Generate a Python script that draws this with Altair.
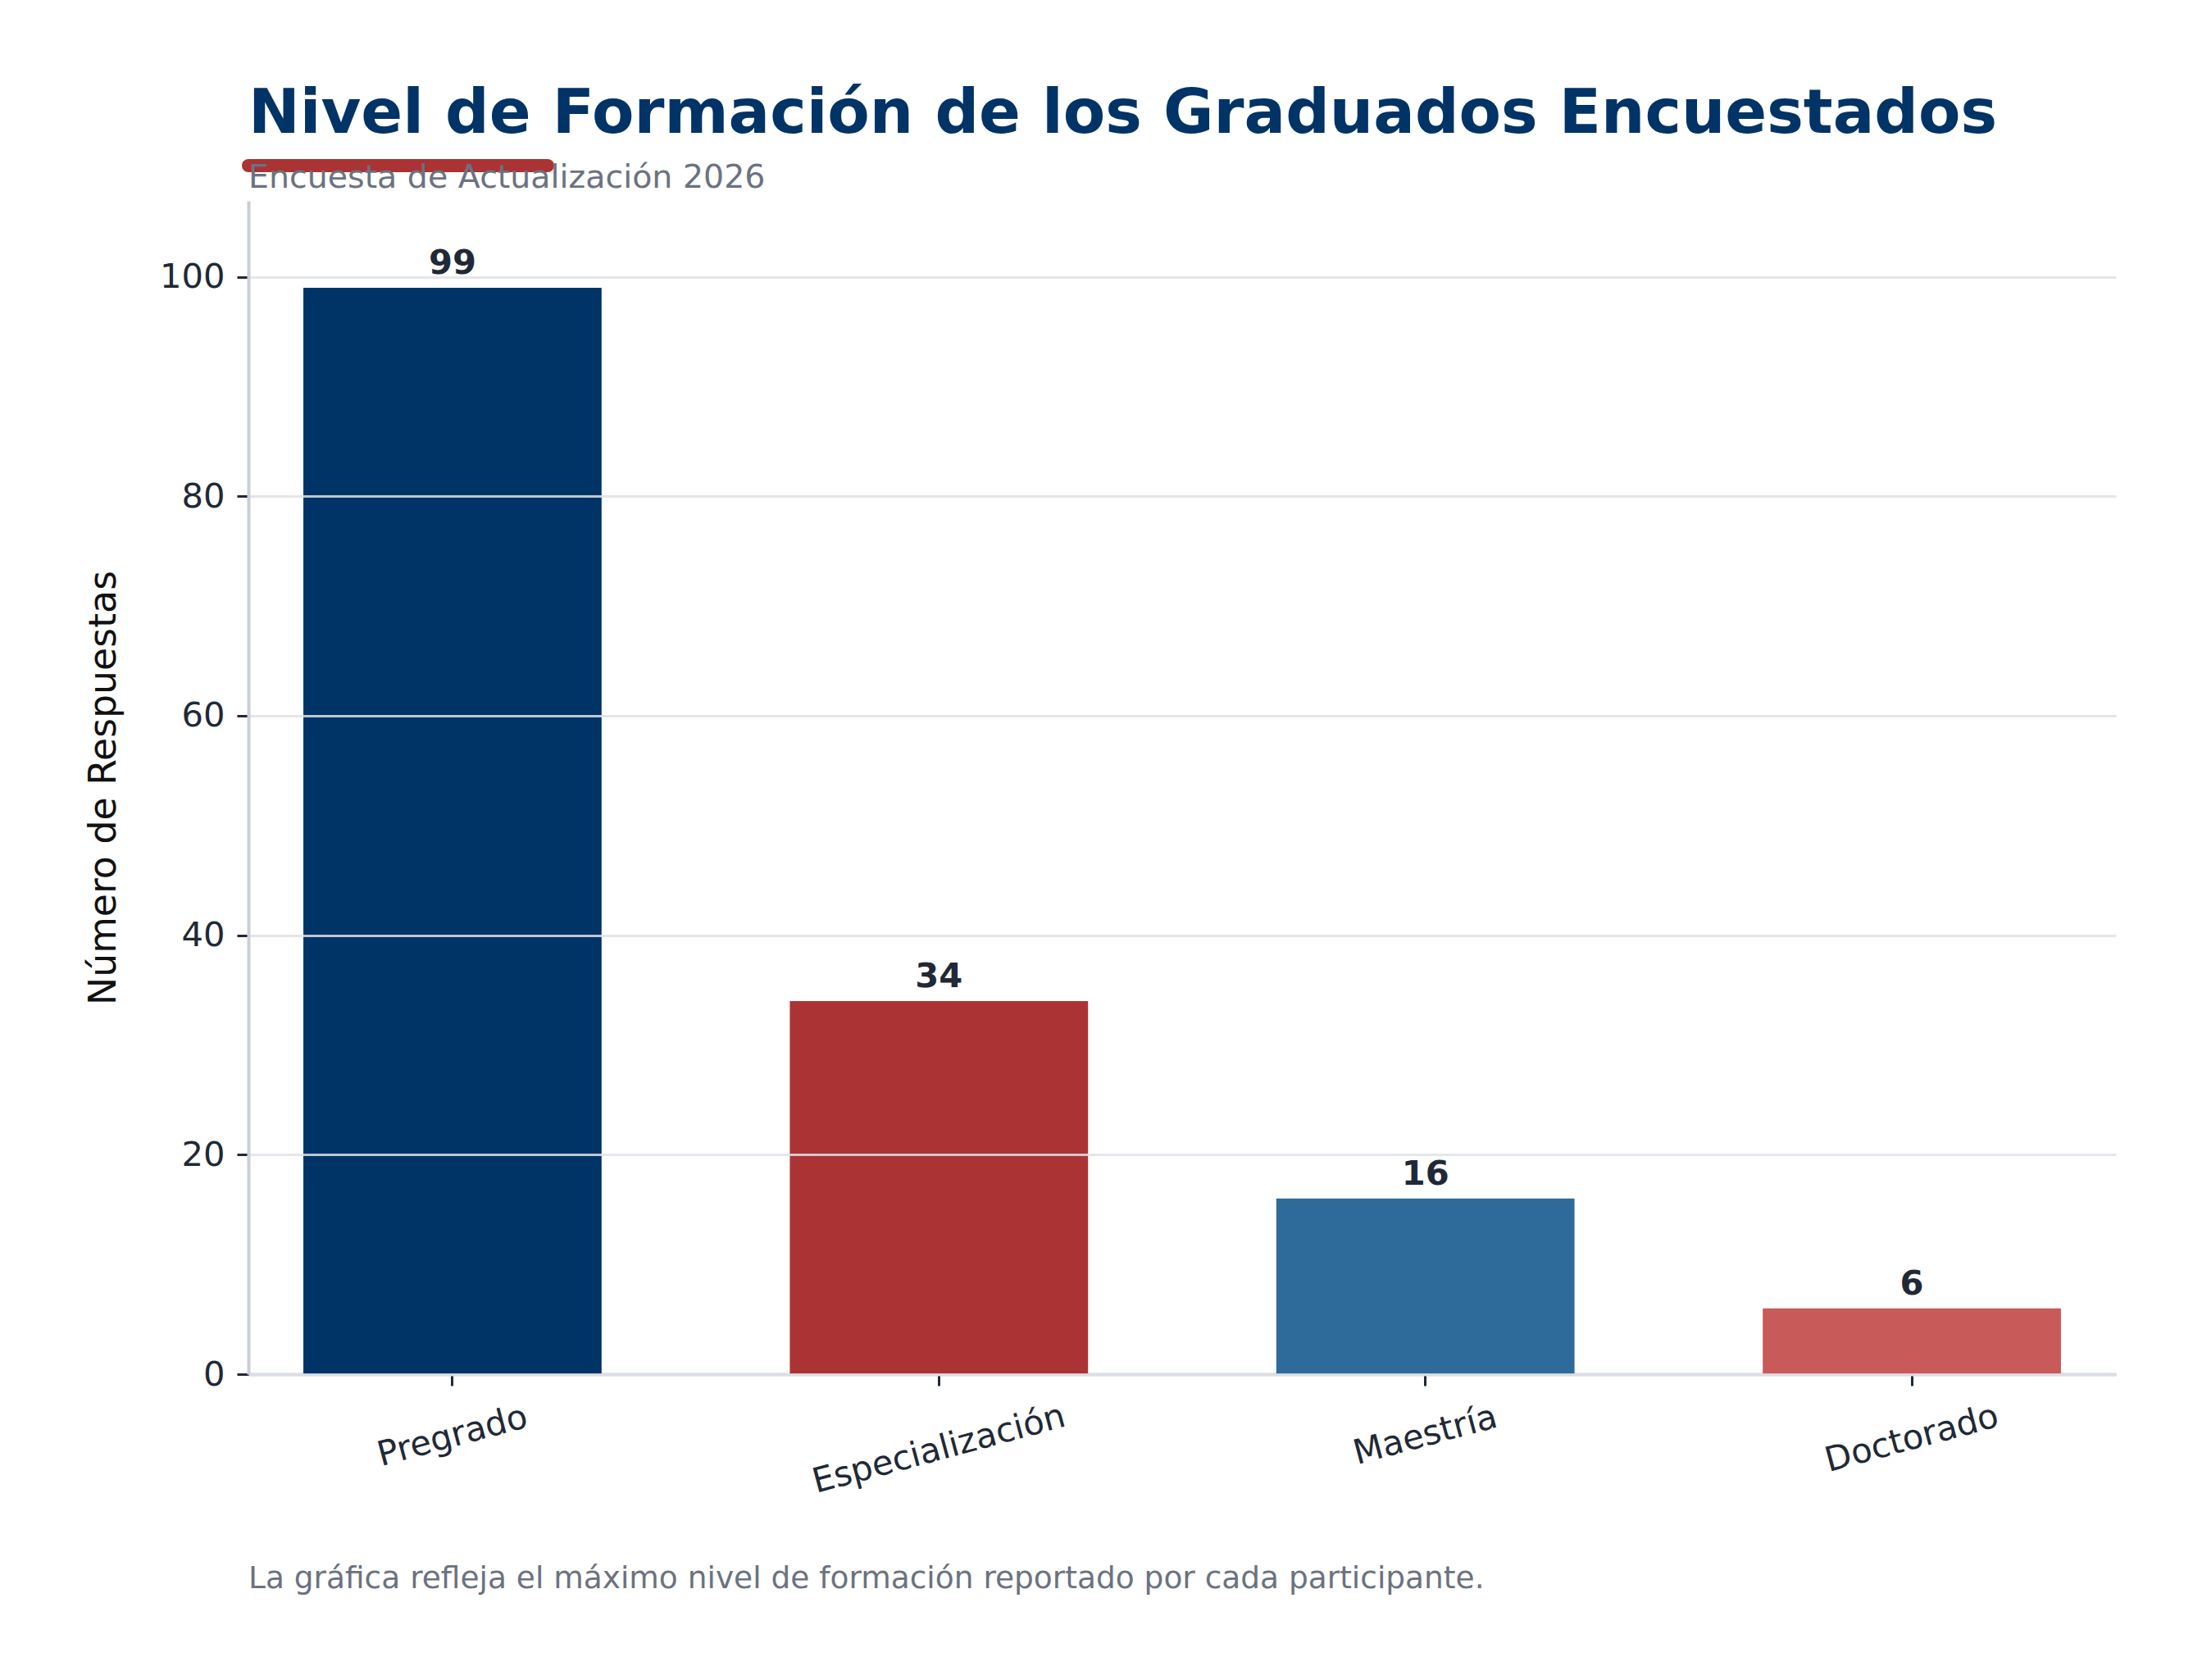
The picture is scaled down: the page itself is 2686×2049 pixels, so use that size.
import altair as alt
import pandas as pd

# ---- data ----
CATEGORIES = ["Pregrado", "Especialización", "Maestría", "Doctorado"]
VALUES = [99, 34, 16, 6]
COLORS = ["#003366", "#ab3333", "#2e6b9a", "#c85a5a"]
Y_TICKS = [0, 20, 40, 60, 80, 100]
Y_MAX = 106.92

TITLE = "Nivel de Formación de los Graduados Encuestados"
SUBTITLE = "Encuesta de Actualización 2026"
FOOTER = "La gráfica refleja el máximo nivel de formación reportado por cada participante."
Y_LABEL = "Número de Respuestas"

df = pd.DataFrame({"cat": CATEGORIES, "val": VALUES})

FONT = "DejaVu Sans"
DARK = "#1f2937"
GRAY = "#6b7280"
SPINE = "#c9ced7"

W, H = 2278, 1431

x_enc = alt.X(
    "cat:N",
    sort=CATEGORIES,
    scale=alt.Scale(paddingInner=0.387, paddingOuter=0.113),
    axis=alt.Axis(
        title=None,
        labelAngle=-15,
        labelAlign="center",
        labelBaseline="middle",
        labelFont=FONT,
        labelFontSize=41.7,
        labelColor=DARK,
        labelOverlap=False,
        labelFlush=False,
        labelLimit=2000,
        labelPadding={
            "condition": [
                {"test": "datum.value === 'Especialización'", "value": 77},
                {"test": "datum.value === 'Doctorado'", "value": 64},
                {"test": "datum.value === 'Maestría'", "value": 60},
            ],
            "value": 61,
        },
        tickSize=14,
        tickWidth=3,
        tickColor=DARK,
        domainColor=SPINE,
        domainWidth=4,
        grid=False,
    ),
)

y_enc = alt.Y(
    "val:Q",
    scale=alt.Scale(domain=[0, Y_MAX], nice=False, zero=True),
    axis=alt.Axis(
        values=Y_TICKS,
        grid=True,
        gridColor="#dfe2e8",
        gridOpacity=0.85,
        gridWidth=3,
        labelFont=FONT,
        labelFontSize=41.7,
        labelColor=DARK,
        labelPadding=15,
        tickSize=14,
        tickWidth=3,
        tickColor=DARK,
        domainColor=SPINE,
        domainWidth=4,
        title=Y_LABEL,
        titleFont=FONT,
        titleFontSize=45.8,
        titleFontWeight="normal",
        titleColor="#111111",
        titleAngle=-90,
        titleX=-163,
        titleY=H / 2,
        titleAlign="center",
        titleBaseline="alphabetic",
        titleLimit=2000,
        zindex=1,
    ),
)

accent = alt.Chart(alt.Data(values=[{"k": 1}])).mark_rule(
    color="#ab3333", strokeWidth=16, strokeCap="round"
).encode(x=alt.value(0), x2=alt.value(365), y=alt.value(-43))

bars = alt.Chart(df).mark_bar().encode(
    x=x_enc,
    y=y_enc,
    color=alt.Color("cat:N", scale=alt.Scale(domain=CATEGORIES, range=COLORS), legend=None),
)

labels = alt.Chart(df).mark_text(
    baseline="alphabetic", dy=-17, font=FONT, fontSize=41.7, fontWeight="bold", color=DARK
).encode(
    x=alt.X("cat:N", sort=CATEGORIES),
    y="val:Q",
    text="val:Q",
)

title = alt.Chart(alt.Data(values=[{"t": TITLE}])).mark_text(
    align="left", baseline="alphabetic", font=FONT, fontSize=75, fontWeight="bold", color="#003366"
).encode(x=alt.value(0), y=alt.value(-83), text="t:N")

subtitle = alt.Chart(alt.Data(values=[{"t": SUBTITLE}])).mark_text(
    align="left", baseline="alphabetic", font=FONT, fontSize=39.5, color=GRAY
).encode(x=alt.value(0), y=alt.value(-16), text="t:N")

footer = alt.Chart(alt.Data(values=[{"t": FOOTER}])).mark_text(
    align="left", baseline="alphabetic", font=FONT, fontSize=37.5, color=GRAY
).encode(x=alt.value(0), y=alt.value(1692), text="t:N")

chart = alt.layer(accent, bars, labels, title, subtitle, footer).properties(
    width=W,
    height=H,
    autosize=alt.AutoSizeParams(type="none"),
    padding={"left": 295, "top": 237, "right": 97, "bottom": 365},
    background="white",
).configure_view(stroke=None)

chart.save("out.html", embed_options={"renderer": "svg", "actions": False})
